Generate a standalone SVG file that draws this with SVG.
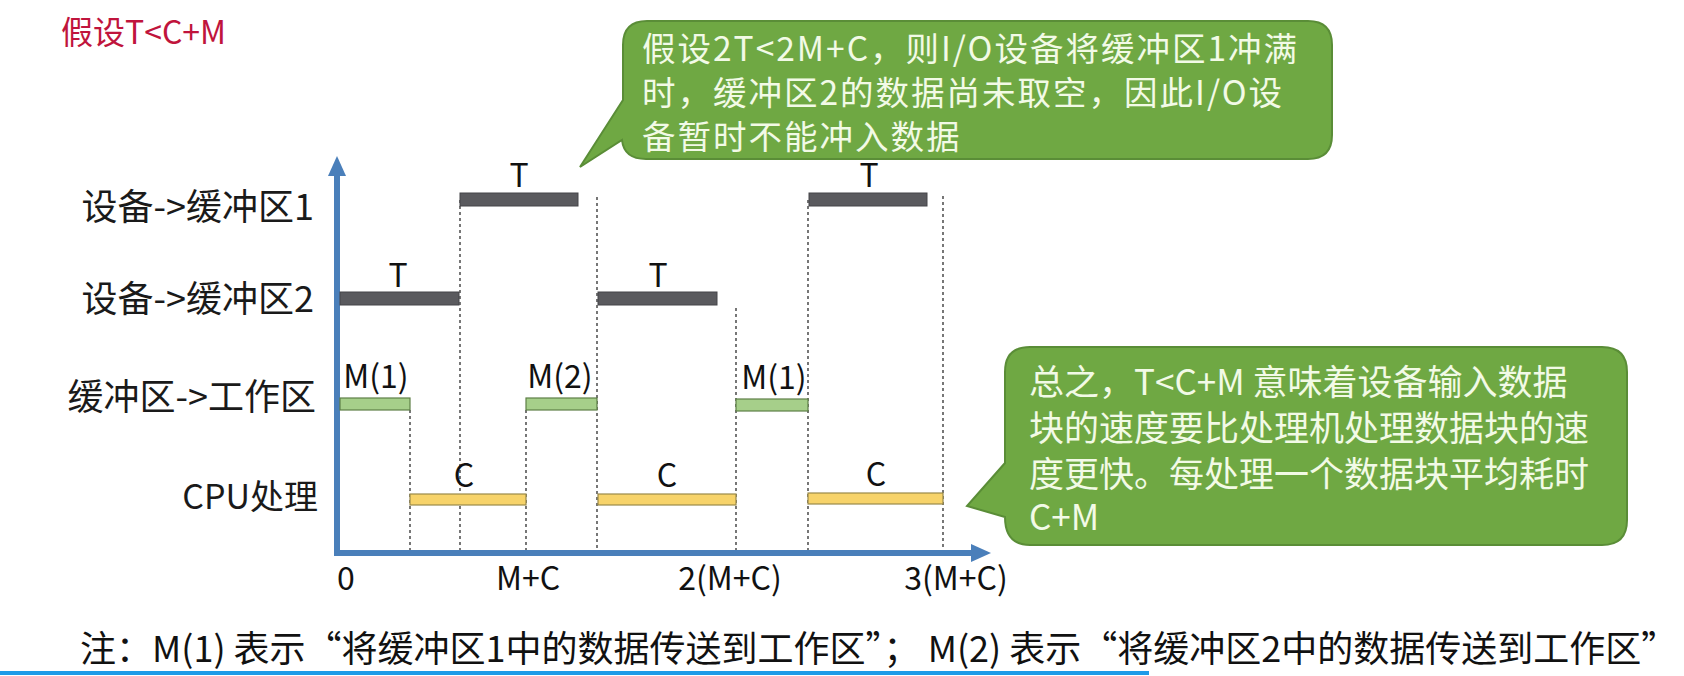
<svg xmlns="http://www.w3.org/2000/svg" width="1684" height="676" viewBox="0 0 1684 676">
<style>
text{font-family:"Noto Sans CJK SC","Noto Sans",sans-serif;}
.lbl{font-size:36px;fill:#1a1a1a;text-anchor:end;}
.tag{font-size:32px;fill:#111;text-anchor:middle;}
.ax{font-size:32px;fill:#111;text-anchor:middle;}
.call{font-size:36px;fill:#f2fae6;}
.bub{fill:#6fa843;stroke:#5a8d37;stroke-width:2;}
.dev{fill:#5a5a5e;stroke:#444448;stroke-width:1;}
.mv{fill:#a6cf8a;stroke:#5e7f47;stroke-width:1.2;}
.cpu{fill:#f7d36a;stroke:#9a8a4a;stroke-width:1.2;}
.guide{stroke:#555;stroke-width:1.6;stroke-dasharray:3 3;fill:none;}
.axis{stroke:#4a7fba;stroke-width:6;fill:none;}
</style>
<defs>
<marker id="ah" viewBox="0 0 20 18" refX="2" refY="9" markerWidth="20" markerHeight="18" markerUnits="userSpaceOnUse" orient="auto">
<path d="M0,0 L20,9 L0,18 Z" fill="#4a7fba"/>
</marker>
</defs>
<rect width="1684" height="676" fill="#ffffff"/>
<rect x="0" y="671" width="1149" height="4" fill="#1e9be8"/>

<g id="assumption">
<text x="61" y="44" style="font-size:32px;fill:#c0143c;">假设T&lt;C+M</text>
</g>

<g id="callout-top">
<path class="bub" d="M647,21 H1308 Q1332,21 1332,45 V135 Q1332,159 1308,159 H646 Q624,159 622,140 L580,167 L623,100 V45 Q623,21 647,21 Z"/>
<text class="call" style="font-size:33.5px;letter-spacing:2px;"><tspan x="642" y="61">假设2T&lt;2M+C，则I/O设备将缓冲区1冲满</tspan><tspan x="642" y="105">时，缓冲区2的数据尚未取空，因此I/O设</tspan><tspan x="642" y="149">备暂时不能冲入数据</tspan></text>
</g>

<g id="callout-right">
<path class="bub" d="M1030,347 H1602 Q1627,347 1627,372 V520 Q1627,545 1602,545 H1030 Q1005,545 1005,517 L967,506 L1005,463 V372 Q1005,347 1030,347 Z"/>
<text class="call" style="font-size:35px;"><tspan x="1029" y="395">总之，T&lt;C+M 意味着设备输入数据</tspan><tspan x="1029" y="441">块的速度要比处理机处理数据块的速</tspan><tspan x="1029" y="487">度更快。每处理一个数据块平均耗时</tspan><tspan x="1029" y="530">C+M</tspan></text>
</g>

<g id="row-labels">
<text class="lbl" x="314" y="220">设备-&gt;缓冲区1</text>
<text class="lbl" x="314" y="312">设备-&gt;缓冲区2</text>
<text class="lbl" x="316" y="410">缓冲区-&gt;工作区</text>
<text class="lbl" x="318" y="509" style="font-size:34px;">CPU处理</text>
</g>

<g id="connectors">
<line class="guide" x1="410" y1="410" x2="410" y2="553"/>
<line class="guide" x1="460" y1="200" x2="460" y2="553"/>
<line class="guide" x1="526" y1="410" x2="526" y2="553"/>
<line class="guide" x1="597" y1="197" x2="597" y2="553"/>
<line class="guide" x1="736" y1="308" x2="736" y2="553"/>
<line class="guide" x1="808" y1="200" x2="808" y2="553"/>
<line class="guide" x1="943" y1="196" x2="943" y2="553"/>
</g>

<g id="axes">
<line class="axis" x1="337" y1="556" x2="337" y2="174" marker-end="url(#ah)"/>
<line class="axis" x1="334" y1="553" x2="973" y2="553" marker-end="url(#ah)"/>
</g>

<g id="dev-buf1">
<rect class="dev" x="460" y="193" width="118" height="13"/>
<text class="tag" x="519" y="187">T</text>
<rect class="dev" x="809" y="193" width="118" height="13"/>
<text class="tag" x="869" y="187">T</text>
</g>

<g id="dev-buf2">
<rect class="dev" x="340" y="292" width="119" height="13"/>
<text class="tag" x="398" y="287">T</text>
<rect class="dev" x="598" y="292" width="119" height="13"/>
<text class="tag" x="658" y="287">T</text>
</g>

<g id="buf-work">
<rect class="mv" x="340" y="398" width="70" height="12"/>
<text class="tag" x="376" y="388">M(1)</text>
<rect class="mv" x="526" y="398" width="71" height="12"/>
<text class="tag" x="560" y="388">M(2)</text>
<rect class="mv" x="736" y="399" width="72" height="12"/>
<text class="tag" x="774" y="389">M(1)</text>
</g>

<g id="cpu">
<rect class="cpu" x="410" y="494" width="116" height="11"/>
<text class="tag" x="464" y="487">C</text>
<rect class="cpu" x="598" y="494" width="138" height="11"/>
<text class="tag" x="667" y="487">C</text>
<rect class="cpu" x="808" y="493" width="135" height="11"/>
<text class="tag" x="876" y="486">C</text>
</g>

<g id="axis-labels">
<text class="ax" x="346" y="590">0</text>
<text class="ax" x="528" y="590">M+C</text>
<text class="ax" x="730" y="590">2(M+C)</text>
<text class="ax" x="956" y="590">3(M+C)</text>
</g>

<g id="footnote">
<text x="80" y="662" style="font-size:36px;fill:#111;">注：M(1) 表示“将缓冲区1中的数据传送到工作区”； M(2) 表示“将缓冲区2中的数据传送到工作区”</text>
</g>
</svg>
